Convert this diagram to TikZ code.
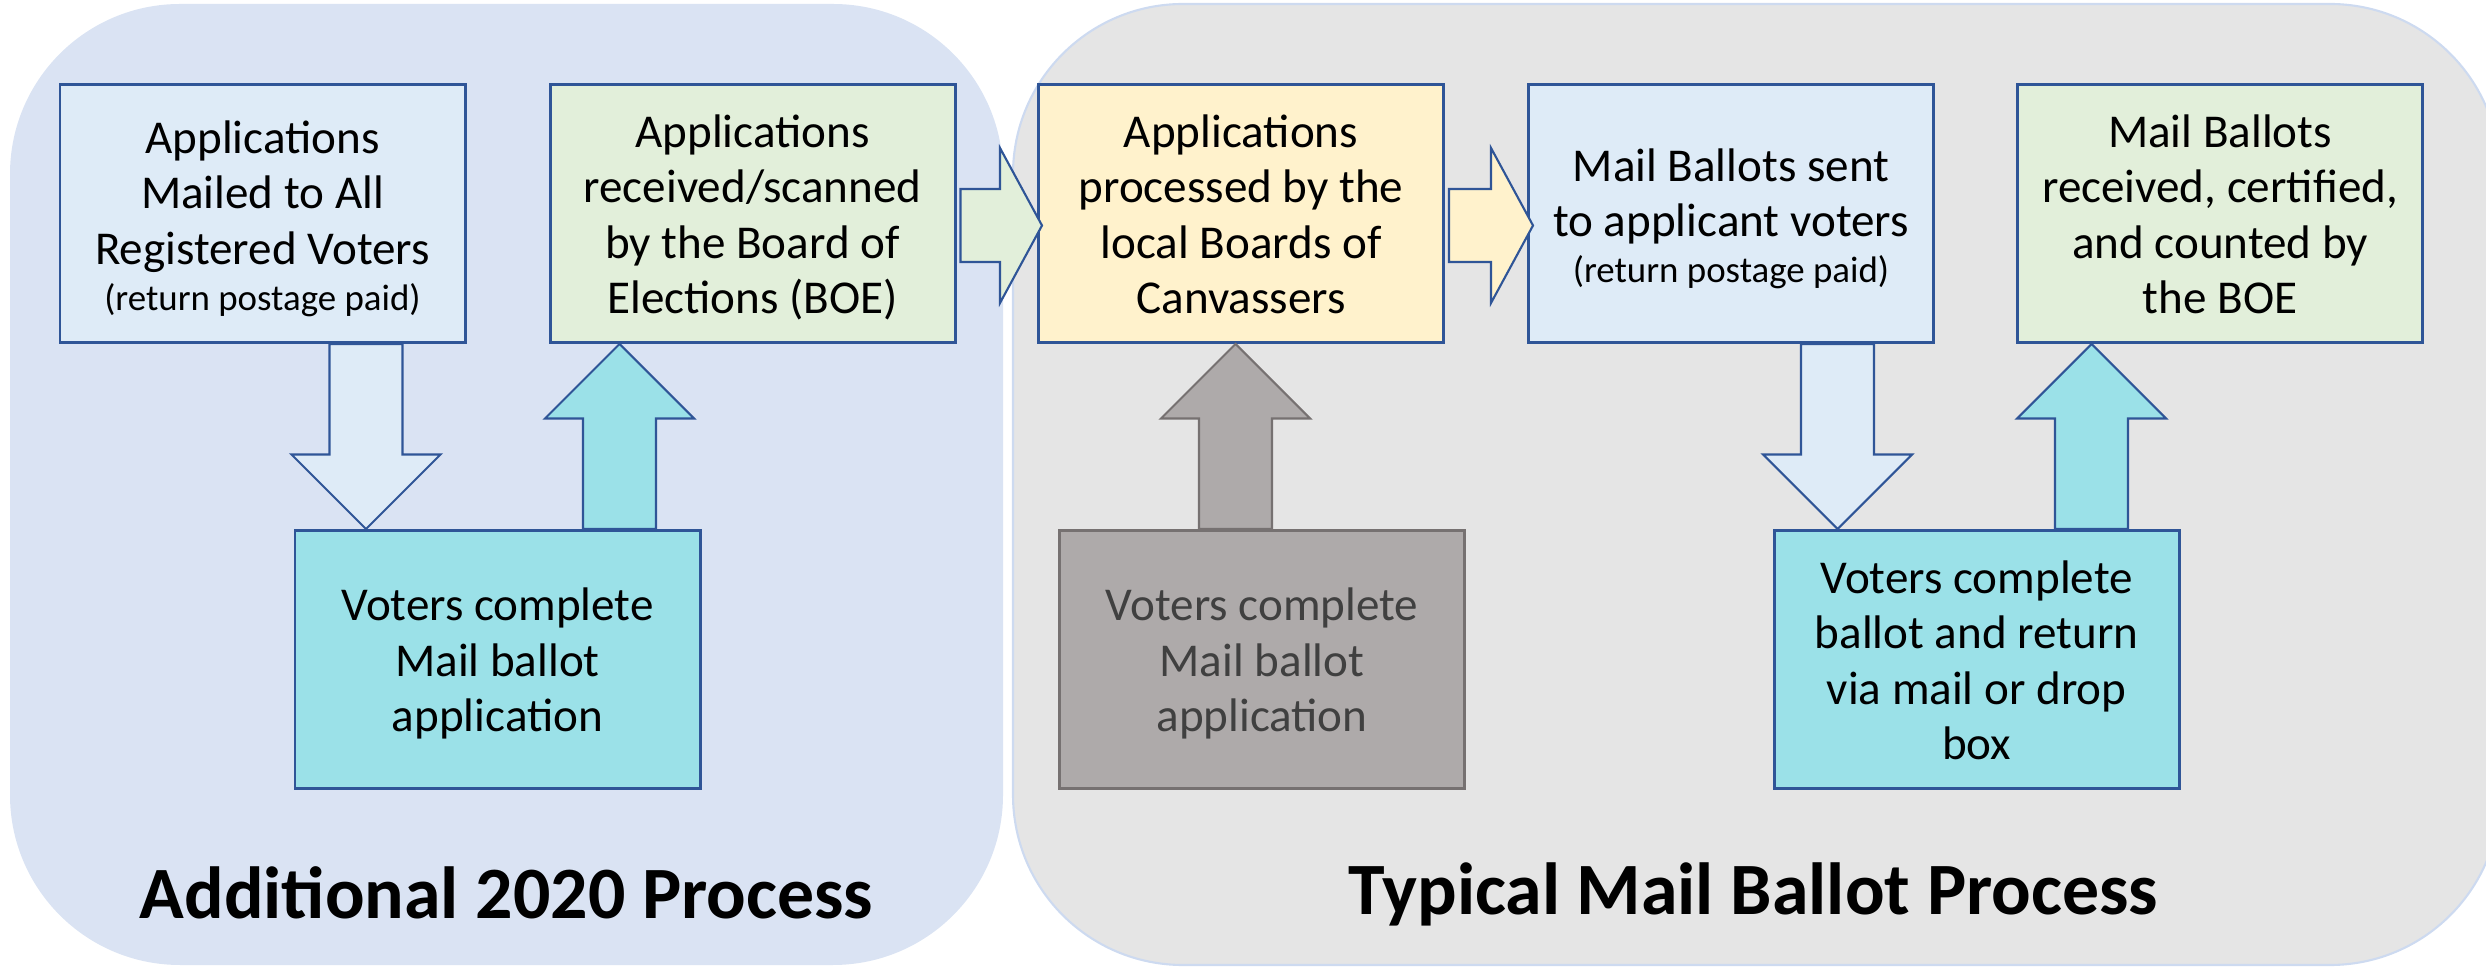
\documentclass[tikz,border=0pt]{standalone}
\usepackage{fontspec}
\setmainfont{Carlito}
\usetikzlibrary{calc}
\definecolor{panelblue}{HTML}{DAE3F3}
\definecolor{panelgray}{HTML}{E5E5E5}
\definecolor{panelrim}{HTML}{CDDAF0}
\definecolor{boxline}{HTML}{2F5597}
\definecolor{paleblue}{HTML}{DEEBF7}
\definecolor{palegreen}{HTML}{E2EFDA}
\definecolor{paleyellow}{HTML}{FFF2CC}
\definecolor{votercyan}{HTML}{9BE1E8}
\definecolor{stonegray}{HTML}{AEAAAA}
\definecolor{stoneline}{HTML}{767171}
\definecolor{stonetext}{HTML}{404040}
% line struts so the text sits as in the slide
\newcommand{\ppttop}{\rule{0pt}{0.96em}}
\newcommand{\pptbot}{\rule[-0.24em]{0pt}{0pt}}
\tikzset{
  stage/.style={draw=boxline, line width=0.85pt, minimum width=4.05cm, minimum height=2.58cm,
    inner sep=0pt, align=center, font=\fontsize{13.4}{15.8}\selectfont},
  title/.style={anchor=base, font=\fontsize{21}{25}\selectfont\bfseries},
  block/.style 2 args={draw=boxline, line width=0.6pt, to path={
    ($(\tikztostart)!3.65mm!90:(\tikztotarget)$)
    -- ($(\tikztotarget)!#1!(\tikztostart)!3.65mm!90:(\tikztotarget)$)
    -- ($(\tikztotarget)!#1!(\tikztostart)!#2!90:(\tikztotarget)$)
    -- (\tikztotarget)
    -- ($(\tikztotarget)!#1!(\tikztostart)!#2!-90:(\tikztotarget)$)
    -- ($(\tikztotarget)!#1!(\tikztostart)!3.65mm!-90:(\tikztotarget)$)
    -- ($(\tikztostart)!3.65mm!-90:(\tikztotarget)$) -- cycle}},
}
\begin{document}
\begin{tikzpicture}
\useasboundingbox (0,0) rectangle (24.86,9.70);
% the two process panels
\fill[panelblue, rounded corners=1.7cm] (0.10,0.05) rectangle (10.03,9.66);
\draw[panelrim, fill=panelgray, line width=0.6pt, rounded corners=1.7cm] (10.13,0.05) rectangle (25.00,9.66);

\node[stage, fill=paleblue] (mailed) at (2.625,7.565) {\ppttop Applications\\Mailed to All\\Registered Voters\\[-2.8pt]{\fontsize{10.5}{13}\selectfont(return postage paid)\pptbot}};
\node[stage, fill=palegreen] (received) at (7.525,7.565) {\ppttop Applications\\received/scanned\\by the Board of\\Elections (BOE)\pptbot};
\node[stage, fill=paleyellow] (processed) at (12.41,7.565) {\ppttop Applications\\processed by the\\local Boards of\\Canvassers\pptbot};
\node[stage, fill=paleblue] (sent) at (17.31,7.565) {\ppttop Mail Ballots sent\\to applicant voters\\[-2.8pt]{\fontsize{10.5}{13}\selectfont(return postage paid)\pptbot}};
\node[stage, fill=palegreen] (counted) at (22.20,7.565) {\ppttop Mail Ballots\\received, certified,\\and counted by\\the BOE\pptbot};
\node[stage, fill=votercyan] (appvoters) at (4.975,3.105) {\ppttop Voters complete\\Mail ballot\\application\pptbot};
\node[stage, fill=stonegray, draw=stoneline, text=stonetext] (typvoters) at (12.62,3.105) {\ppttop Voters complete\\Mail ballot\\application\pptbot};
\node[stage, fill=votercyan] (ballotvoters) at (19.765,3.105) {\ppttop Voters complete\\ballot and return\\via mail or drop\\box\pptbot};

% block arrows
\draw[block={0.745cm}{0.745cm}, fill=paleblue] ([xshift=1.035cm]mailed.south) to ([xshift=-1.315cm]appvoters.north);
\draw[block={0.745cm}{0.745cm}, fill=votercyan] ([xshift=1.22cm]appvoters.north) to ([xshift=-1.33cm]received.south);
\draw[block={0.42cm}{0.775cm}, fill=palegreen] ([shift={(0.04,-0.12)}]received.east) to ([shift={(0.05,-0.12)}]processed.west);
\draw[block={0.42cm}{0.775cm}, fill=paleyellow] ([shift={(0.04,-0.12)}]processed.east) to ([shift={(0.06,-0.12)}]sent.west);
\draw[block={0.745cm}{0.745cm}, fill=stonegray, draw=stoneline] ([xshift=-0.265cm]typvoters.north) to ([xshift=-0.055cm]processed.south);
\draw[block={0.745cm}{0.745cm}, fill=paleblue] ([xshift=1.065cm]sent.south) to ([xshift=-1.39cm]ballotvoters.north);
\draw[block={0.745cm}{0.745cm}, fill=votercyan] ([xshift=1.15cm]ballotvoters.north) to ([xshift=-1.285cm]counted.south);

\node[title] (addtitle) at (5.065,0.52) {Additional 2020 Process};
\node[title] (typtitle) at (17.53,0.55) {Typical Mail Ballot Process};
\end{tikzpicture}
\end{document}
